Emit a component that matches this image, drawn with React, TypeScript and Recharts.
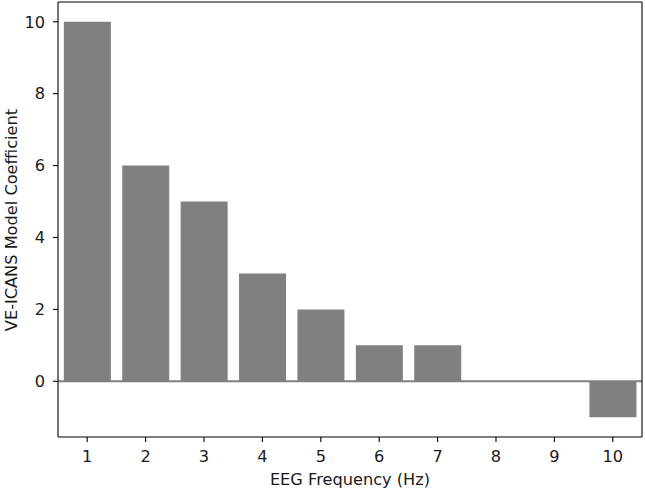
import React from "react";
import { BarChart, Bar, XAxis, YAxis, ReferenceLine, Label } from "recharts";

const categories = ["1", "2", "3", "4", "5", "6", "7", "8", "9", "10"];
const coefficients = [10, 6, 5, 3, 2, 1, 1, 0, 0, -1];
const yTicks = [0, 2, 4, 6, 8, 10];

const data = categories.map((c, i) => ({ freq: c, coef: coefficients[i] }));

const FONT = "'DejaVu Sans', sans-serif";
const FS = 16.2;
const TXT = "#1a1a1a";

export default function App() {
  return (
    <div style={{ position: "absolute", left: 0, top: 0, background: "#fff" }}>
      <BarChart
        width={645}
        height={489}
        data={data}
        margin={{ top: 1, right: 2, left: 0, bottom: 0 }}
        barCategoryGap="10%"
      >
        <ReferenceLine y={0} stroke="#808080" strokeWidth={2} />
        <Bar dataKey="coef" fill="#808080" isAnimationActive={false} />
        <Bar
          dataKey="coef"
          xAxisId="top"
          yAxisId="right"
          fill="transparent"
          isAnimationActive={false}
        />
        <XAxis
          dataKey="freq"
          type="category"
          height={52}
          stroke="#000"
          tickLine={{ stroke: "#000", strokeWidth: 1.1 }}
          axisLine={{ stroke: "#000", strokeWidth: 1.1 }}
          tickSize={5}
          tickMargin={8}
          tick={{ fill: TXT, fontFamily: FONT, fontSize: FS }}
          interval={0}
        >
          <Label
            content={() => (
              <text
                x={350}
                y={485}
                textAnchor="middle"
                fontFamily={FONT}
                fontSize={FS}
                fill={TXT}
              >
                EEG Frequency (Hz)
              </text>
            )}
          />
        </XAxis>
        <YAxis
          type="number"
          domain={[-1.55, 10.55]}
          ticks={yTicks}
          allowDataOverflow
          width={58}
          stroke="#000"
          tickLine={{ stroke: "#000", strokeWidth: 1.1 }}
          axisLine={{ stroke: "#000", strokeWidth: 1.1 }}
          tickSize={5}
          tickMargin={8}
          tick={{ fill: TXT, fontFamily: FONT, fontSize: FS }}
        >
          <Label
            content={() => (
              <text
                x={17}
                y={220}
                transform="rotate(-90 17 220)"
                textAnchor="middle"
                fontFamily={FONT}
                fontSize={FS}
                fill={TXT}
              >
                VE-ICANS Model Coefficient
              </text>
            )}
          />
        </YAxis>
        <XAxis
          xAxisId="top"
          orientation="top"
          dataKey="freq"
          height={1}
          tick={false}
          tickLine={false}
          stroke="#000"
          axisLine={{ stroke: "#000", strokeWidth: 1.1 }}
        />
        <YAxis
          yAxisId="right"
          orientation="right"
          type="number"
          domain={[-1.55, 10.55]}
          allowDataOverflow
          width={1}
          tick={false}
          tickLine={false}
          stroke="#000"
          axisLine={{ stroke: "#000", strokeWidth: 1.1 }}
        />
      </BarChart>
    </div>
  );
}
